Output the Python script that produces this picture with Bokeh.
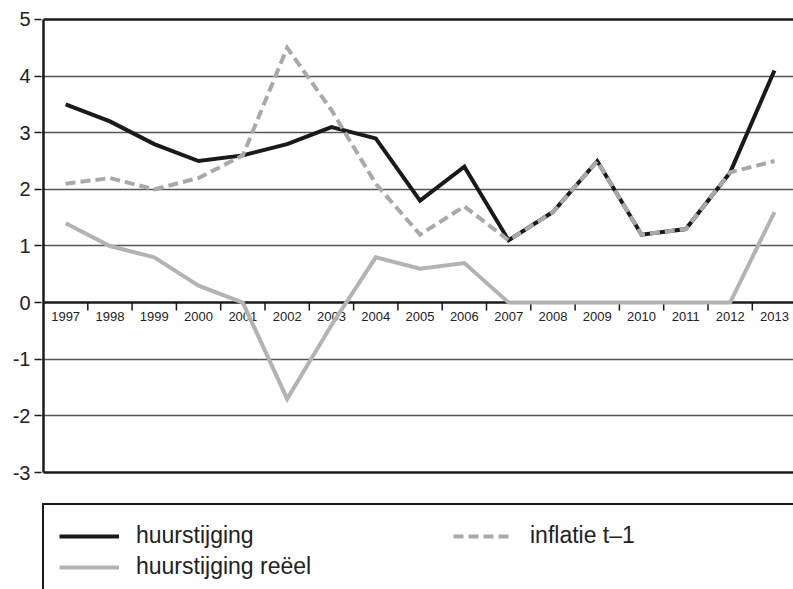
from bokeh.plotting import figure
from bokeh.models import Range1d, FixedTicker, LinearAxis, Legend, LegendItem, Grid
from bokeh.core.properties import value
from bokeh.embed import file_html
from bokeh.resources import INLINE

# ---- data ----
years = list(range(1997, 2014))
year_labels = [str(y) for y in years]
huurstijging = [3.5, 3.2, 2.8, 2.5, 2.6, 2.8, 3.1, 2.9, 1.8, 2.4, 1.1, 1.6, 2.5, 1.2, 1.3, 2.3, 4.1]
inflatie = [2.1, 2.2, 2.0, 2.2, 2.6, 4.5, 3.4, 2.1, 1.2, 1.7, 1.1, 1.6, 2.5, 1.2, 1.3, 2.3, 2.5]
reeel = [1.4, 1.0, 0.8, 0.3, 0.0, -1.7, -0.4, 0.8, 0.6, 0.7, 0.0, 0.0, 0.0, 0.0, 0.0, 0.0, 1.6]
y_ticks = [-3, -2, -1, 0, 1, 2, 3, 4, 5]
y_tick_labels = ["-3", "-2", "-1", "0", "1", "2", "3", "4", "5"]
grid_values = [-2, -1, 1, 2, 3, 4]
frame_values = [-3, 0, 5]
series_labels = ["huurstijging", "huurstijging reëel", "inflatie t\u20131"]

FONT = "Liberation Sans"
BLACK = "#1a1a1a"

p = figure(width=793, height=589,
           x_range=Range1d(1996.455, 2013.43), y_range=Range1d(-5.066, 5.035),
           output_backend="svg", toolbar_location=None,
           x_axis_type=None, y_axis_type=None,
           min_border_left=41, min_border_top=17, min_border_right=0, min_border_bottom=0)
p.outline_line_color = None
p.background_fill_color = "white"
p.border_fill_color = "white"

grid = Grid(dimension=1, ticker=FixedTicker(ticks=grid_values),
            grid_line_color="#555555", grid_line_width=1.5)
p.add_layout(grid)

yaxis = LinearAxis(ticker=FixedTicker(ticks=y_ticks),
                   major_label_overrides=dict(zip(y_ticks, y_tick_labels)),
                   axis_line_color=None, major_tick_out=7, major_tick_in=0,
                   minor_tick_line_color=None, major_tick_line_color=BLACK,
                   major_tick_line_width=1.5, major_label_standoff=4,
                   major_label_text_font=FONT, major_label_text_font_size="20px",
                   major_label_text_color="#222222")
p.add_layout(yaxis, "left")

x_left = years[0] - 0.5
x_right = years[-1] + 0.5
boundaries = [y + 0.5 for y in years[:-1]]

# frame lines at 5, 0, -3 and the vertical axis line
p.segment(x0=[x_left] * len(frame_values), x1=[x_right] * len(frame_values),
          y0=frame_values, y1=frame_values, line_color=BLACK, line_width=2.5)
p.segment(x0=[x_left], x1=[x_left], y0=[y_ticks[0]], y1=[y_ticks[-1]],
          line_color=BLACK, line_width=2.5)
# category boundary ticks along the zero line
p.segment(x0=boundaries, x1=boundaries, y0=[0] * len(boundaries), y1=[-0.14] * len(boundaries),
          line_color=BLACK, line_width=1.5)
# year labels
p.text(x=years, y=[0] * len(years), text=year_labels, text_font=value(FONT),
       text_font_size="13px", text_align="center", text_baseline="top",
       y_offset=9, text_color="#222222")

r1 = p.line(years, huurstijging, line_color=BLACK, line_width=4, line_join="miter")
r2 = p.line(years, inflatie, line_color="#a9a9a9", line_width=4, line_dash="10 5", line_join="miter")
r3 = p.line(years, reeel, line_color="#b3b3b3", line_width=4, line_join="miter")

legend = Legend(items=[LegendItem(label=series_labels[0], renderers=[r1]),
                       LegendItem(label=series_labels[1], renderers=[r3]),
                       LegendItem(label=series_labels[2], renderers=[r2])],
                location=(1, -10), orientation="vertical", ncols=2,
                glyph_width=60, glyph_height=20, label_width=317, label_height=31,
                label_standoff=17, spacing=0, padding=15, margin=0,
                border_line_color=BLACK, border_line_width=2.5, border_line_alpha=1.0,
                label_text_font=FONT, label_text_font_size="23px",
                label_text_color="#222222", background_fill_color="white",
                background_fill_alpha=1.0)
p.add_layout(legend)

open("out.html", "w").write(file_html(p, INLINE))
